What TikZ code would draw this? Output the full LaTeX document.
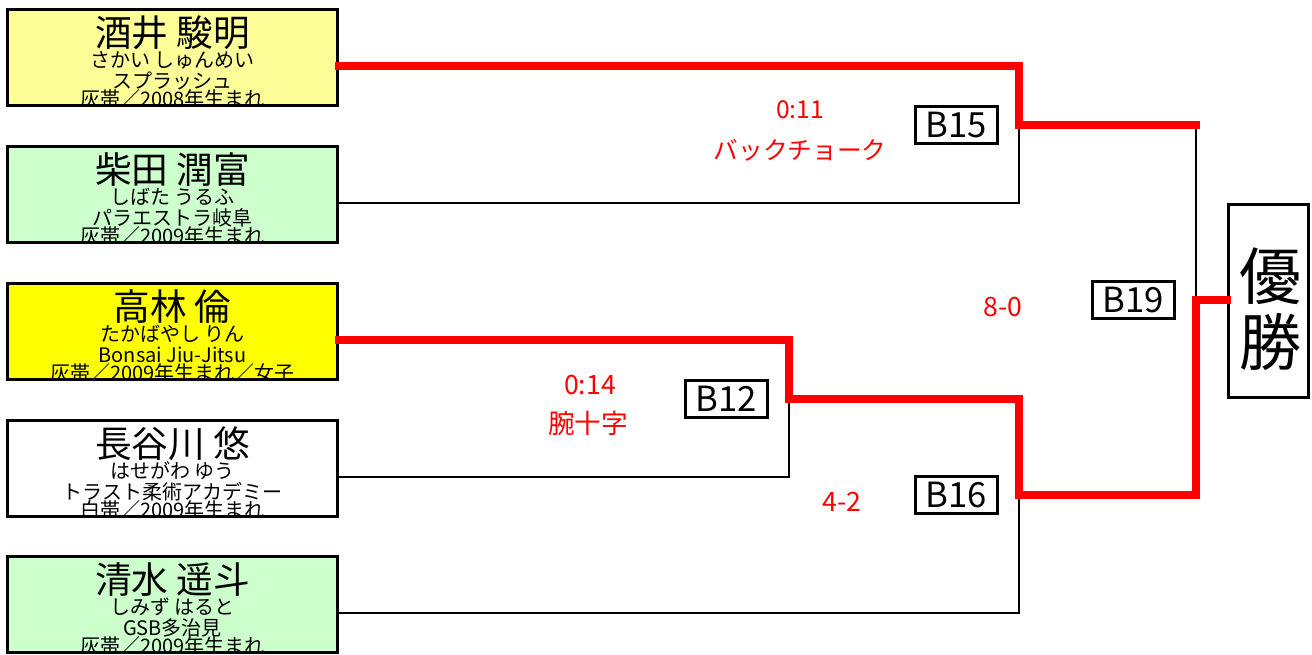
\documentclass[tikz,border=0pt]{standalone}
\usepackage{fontspec}
\setmainfont{Noto Sans CJK JP}
\usetikzlibrary{positioning}

\definecolor{paleyellow}{HTML}{FFFF99}
\definecolor{palegreen}{HTML}{CCFFCC}
\definecolor{hiyellow}{HTML}{FFFF00}
\definecolor{winred}{HTML}{FF0000}

\tikzset{
	pbox/.style={draw, line width=2.25pt, minimum width=247.5pt, minimum height=72pt, inner sep=0pt},
	pname/.style={inner sep=0pt, font=\fontsize{27.5}{27.5}\selectfont},
	pinfo/.style={inner sep=0pt, font=\fontsize{15}{15}\selectfont},
	bout/.style={draw, line width=2.25pt, minimum width=61.5pt, minimum height=28pt, inner sep=0pt, font=\fontsize{26}{26}\selectfont},
	champbox/.style={draw, line width=2.25pt, minimum width=60pt, minimum height=144.75pt, inner sep=0pt},
	win/.style={winred, line width=5.5pt, line cap=rect},
	lose/.style={black, line width=2pt},
	score/.style={winred, inner sep=0pt, font=\fontsize{18.5}{18.5}\selectfont},
	bigscore/.style={score, font=\fontsize{20}{20}\selectfont},
}

\begin{document}
\begin{tikzpicture}[x=0.75pt,y=-0.75pt]
	\useasboundingbox (0,0) rectangle (1312,654);
	
	% players
	\foreach \i/\cy/\col/\nm/\kn/\cl/\inf in {
		1/57/paleyellow/酒井 駿明/さかい しゅんめい/スプラッシュ/灰帯／2008年生まれ,
		2/194/palegreen/柴田 潤富/しばた うるふ/パラエストラ岐阜/灰帯／2009年生まれ,
		3/331/hiyellow/高林 倫/たかばやし りん/Bonsai Jiu-Jitsu/灰帯／2009年生まれ／女子,
		4/468/white/長谷川 悠/はせがわ ゆう/トラスト柔術アカデミー/白帯／2009年生まれ,
		5/604/palegreen/清水 遥斗/しみず はると/GSB多治見/灰帯／2009年生まれ}{
		\node[pbox, fill=\col] (p\i) at (172.5,\cy) {};
		\begin{scope}
			\clip (9,\cy-46.5) rectangle (336,\cy+46.5);
			\node[pname] (p\i name) at (172.5,\cy-24.5) {\nm};
			\node[pinfo] (p\i kana) at (172.5,\cy+3) {\kn};
			\node[pinfo] (p\i club) at (172.5,\cy+23.5) {\cl};
			\node[pinfo] (p\i info) at (172.5,\cy+42) {\inf};
		\end{scope}
	}
	
	% bracket junctions
	\coordinate (j15) at (1019,125);
	\coordinate (j12) at (789,399);
	\coordinate (j16) at (1019,495);
	\coordinate (j19) at (1196,300);
	
	\node[champbox] (champ) at (1268.5,301) {};
	\node[inner sep=0pt, align=center, font=\fontsize{46.5}{50}\selectfont] (champtxt) at (1270,309) {優\\勝};
	
	\draw[lose] ([yshift=-6.75pt]p2.east) -| (j15);
	\draw[lose] (j15 -| j19) -- (j19);
	\draw[lose] ([yshift=-6.75pt]p4.east) -| (j12);
	\draw[lose] ([yshift=-6.75pt]p5.east) -| (j16);
	
	\draw[win] ([yshift=-6.75pt]p1.east) -| (j15) -- (j15 -| j19);
	\draw[win] ([yshift=-6.75pt]p3.east) -| (j12) -- (j12 -| j16) -- (j16) -- (j16 -| j19) -- (j19) -- (j19 -| champ.west);
	
	% bout numbers
	\node[bout, left=15pt of j15] (b15) {B15};
	\node[bout, left=15pt of j12] (b12) {B12};
	\node[bout, left=15pt of j16] (b16) {B16};
	\node[bout, left=15pt of j19] (b19) {B19};
	
	% results
	\node[score] (r15a) at (800,110) {0:11};
	\node[score] (r15b) at (800,150) {バックチョーク};
	\node[bigscore] (r12a) at (590,385) {0:14};
	\node[bigscore] (r12b) at (588,423) {腕十字};
	\node[bigscore] (r16) at (842,502) {4-2};
	\node[bigscore] (r19) at (1003,307) {8-0};
\end{tikzpicture}
\end{document}
